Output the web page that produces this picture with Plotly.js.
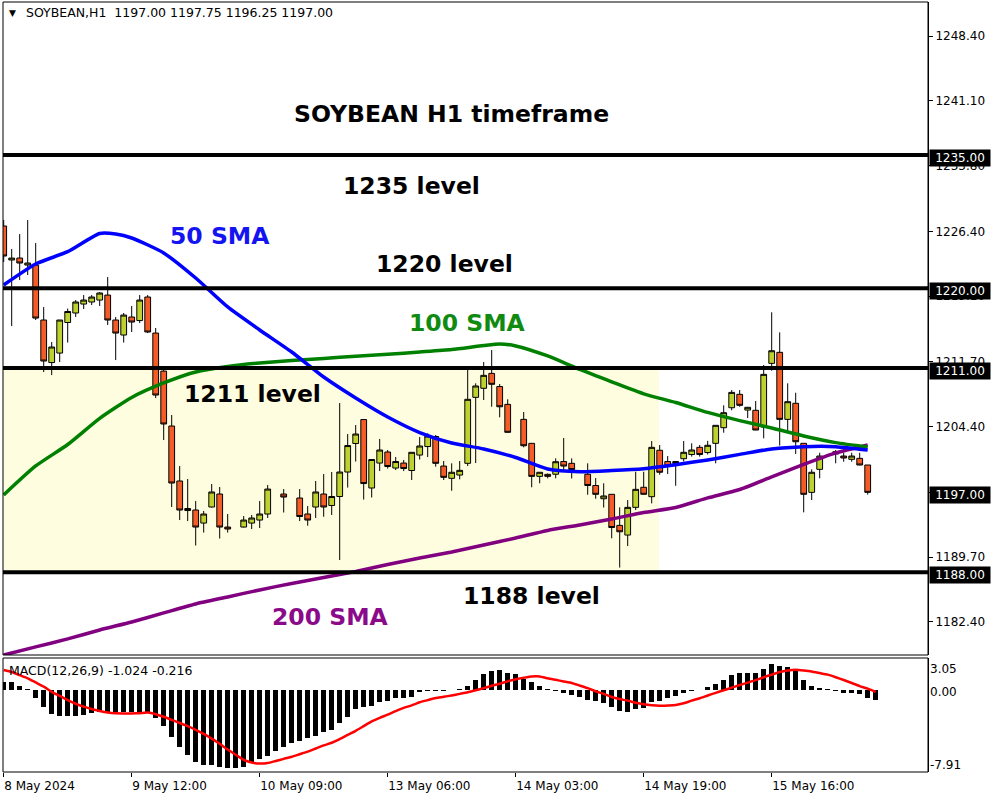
<!DOCTYPE html>
<html><head><meta charset="utf-8">
<script src="https://cdn.plot.ly/plotly-3.0.1.min.js"></script>
<style>html,body{margin:0;padding:0;background:#fff}#chart{width:1000px;height:800px}</style>
</head><body><div id="chart"></div>
<script>
// ---------------- DATA ----------------
const symbol = 'SOYBEAN,H1';
const lastOHLC = ['1197.00', '1197.75', '1196.25', '1197.00'];
const macdHeader = 'MACD(12,26,9) -1.024 -0.216';
const chartTitle = 'SOYBEAN H1 timeframe';

const xTickBars = [0, 16, 32, 48, 64, 80, 96];
const xTickLabels = ['8 May 2024', '9 May 12:00', '10 May 09:00', '13 May 06:00', '14 May 03:00', '14 May 19:00', '15 May 16:00'];

const priceTicks = [1248.40, 1241.10, 1233.80, 1226.40, 1219.10, 1211.70, 1204.40, 1197.00, 1189.70, 1182.40];
const levels = [1235, 1220, 1211, 1188];
const levelLabels = ['1235 level', '1220 level', '1211 level', '1188 level'];
const currentPrice = 1197.00;
const zoneTop = 1211, zoneBottom = 1188;

const open = [
1227.00,1223.17,1223.39,1222.60,1222.60,1216.41,1211.62,1212.69,1216.13,1217.20,
1218.21,1218.44,1218.66,1219.22,1216.41,1214.72,1216.75,1216.35,1219.00,1214.94,
1210.66,1204.47,1198.28,1194.95,1195.01,1193.54,1195.35,1196.81,1193.09,null,
1193.09,1193.54,1193.88,1194.56,null,1196.81,null,1196.36,1194.56,1195.35,
1196.81,1195.52,1196.53,1199.29,1202.50,1205.20,1197.49,1200.30,1201.54,1199.74,
1200.30,1199.46,1201.20,1202.16,1203.29,1199.96,1198.58,1198.95,1200.27,1207.70,
1208.72,1210.40,1208.92,1206.91,null,1205.22,1202.52,1198.80,1199.03,1199.04,
1200.47,1200.27,null,1199.04,1197.77,1196.28,1196.78,1193.28,1192.19,1195.31,
1197.57,1196.51,1201.74,1200.47,1200.25,1200.79,1201.26,1202.07,1201.48,1202.52,
1204.28,1206.53,1208.04,1206.27,1206.24,1204.36,1211.53,1212.77,1205.22,1207.03,
1202.52,1197.00,1199.59,null,1201.32,1201.09,1200.72,1200.83,1200.08];
const high = [
1227.67,1224.41,1226.09,1227.67,1225.08,1217.87,1213.93,1216.41,1217.70,1218.66,
1219.22,1219.22,1219.56,1221.25,1216.75,1217.20,1217.99,1219.22,1219.22,1215.51,
1210.89,1205.71,1199.96,1198.50,1196.02,1194.90,1197.94,1197.60,1194.56,null,
1194.33,1194.45,1196.02,1197.82,null,1197.37,null,1197.37,1195.46,1198.28,
1199.06,1199.29,1207.06,1203.57,1204.58,1205.26,1200.75,1203.01,1201.77,1200.98,
1200.64,1201.54,1203.23,1203.65,1203.46,1200.53,1200.27,1200.53,1211.00,1209.28,
1211.68,1213.03,1209.20,1207.48,null,1206.05,1202.56,1199.29,1199.12,1200.83,
1203.12,1200.83,null,1200.27,1198.61,1198.02,1196.81,1195.31,1196.13,1199.32,
1199.32,1202.78,1202.33,1201.09,1200.53,1202.78,1202.52,1202.33,1202.80,1204.58,
1206.80,1208.52,1208.52,1206.61,1207.29,1211.34,1217.28,1215.02,1209.28,1208.22,
1202.56,1199.59,1201.46,null,1201.77,1201.46,1201.46,1201.46,1200.08];
const low = [
1222.94,1215.73,1220.91,1221.48,1216.41,1210.55,1210.21,1211.68,1213.87,1216.75,
1217.65,1218.10,1217.99,1215.85,1211.90,1213.87,1215.06,1216.07,1214.94,1207.62,
1202.89,1195.35,1193.88,1193.77,1191.01,1192.47,1195.29,1191.80,1192.47,null,
1193.04,1192.87,1192.98,1194.11,null,1194.73,null,1193.77,1193.24,1194.11,
1194.25,1194.45,1189.38,1197.54,1200.47,1196.19,1196.42,1199.40,1199.68,1199.51,
1199.40,1198.39,1200.70,1200.98,1199.89,1198.39,1197.18,1198.47,1199.96,1200.30,
1207.40,1206.64,1205.45,1203.72,null,1202.07,1197.57,1198.02,1198.58,1198.58,
1199.29,1198.56,null,1196.73,1196.28,1195.29,1191.82,1188.53,1190.95,1195.01,
1196.76,1195.76,1198.99,1199.06,1197.74,1200.47,1201.03,1201.03,1201.26,1200.27,
1203.72,1206.24,1206.64,1205.37,1203.99,1203.08,1210.70,1202.27,1203.79,1201.32,
1194.75,1196.13,1198.58,null,1200.27,1200.45,1200.45,1200.05,1196.75];
const close = [
1223.62,1223.39,1222.83,1222.83,1216.63,1211.79,1213.37,1216.41,1217.37,1218.44,
1218.66,1219.00,1219.45,1216.41,1214.94,1216.97,1216.18,1218.66,1215.06,1207.96,
1204.70,1198.05,1195.01,1195.18,1193.09,1194.56,1197.04,1193.09,1192.87,null,
1193.88,1194.11,1194.56,1197.37,null,1196.47,null,1194.28,1193.88,1197.04,
1195.35,1196.53,1199.29,1202.27,1203.57,1197.99,1200.70,1201.77,1199.91,1200.47,
1199.68,1201.51,1202.22,1203.34,1200.27,1198.69,1199.26,1199.48,1207.48,1208.98,
1210.18,1209.17,1206.64,1203.76,null,1202.25,1198.80,1199.26,1198.80,1200.45,
1199.96,1199.57,null,1197.77,1196.78,1196.59,1193.04,1192.56,1195.31,1197.34,
1196.78,1202.07,1199.26,1199.96,1200.47,1201.51,1201.77,1201.26,1202.30,1204.55,
1205.97,1208.26,1206.80,1206.58,1204.02,1210.29,1212.95,1205.22,1207.21,1202.70,
1196.78,1199.26,1201.09,null,1201.58,1200.87,1201.09,1200.08,1197.00];

// moving averages read at selected bars
const sma50Bars = [0,4,8,12,14,16,20,24,28,32,36,40,44,48,52,56,60,64,68,72,76,80,84,88,92,96,100,104,108];
const sma50 = [1220.36,1222.72,1224.11,1226.16,1226.10,1225.65,1223.96,1221.14,1217.88,1215.29,1212.81,1209.99,1207.63,1205.49,1203.74,1202.56,1201.89,1200.93,1199.63,1199.33,1199.46,1199.67,1200.12,1200.65,1201.28,1201.89,1202.15,1202.15,1201.77];
const sma100Bars = [0,4,8,12,16,20,24,28,32,36,40,44,48,52,56,60,62,64,68,72,76,80,84,88,92,96,100,104,108];
const sma100 = [1196.71,1199.97,1202.39,1205.34,1207.69,1209.32,1210.56,1211.18,1211.57,1211.85,1212.08,1212.33,1212.55,1212.81,1213.09,1213.54,1213.71,1213.49,1212.36,1210.84,1209.45,1208.10,1207.12,1206.00,1205.08,1204.25,1203.35,1202.60,1202.11];
const sma200Bars = [0,4,8,12,16,20,24,28,32,36,40,44,48,52,56,60,64,68,72,76,80,84,88,92,96,100,104,108];
const sma200 = [1178.68,1179.59,1180.49,1181.50,1182.40,1183.42,1184.43,1185.22,1186.01,1186.74,1187.41,1188.09,1188.88,1189.61,1190.29,1191.07,1191.86,1192.71,1193.33,1194.00,1194.73,1195.30,1196.37,1197.32,1198.73,1200.14,1201.44,1202.34];
const smaLabels = ['50 SMA', '100 SMA', '200 SMA'];

const macdHist = [
0.75,0.75,0.35,0.05,-0.75,-1.62,-2.32,-2.52,-2.52,-2.52,
-2.42,-2.26,-2.16,-2.16,-2.16,-2.16,-2.16,-2.16,-2.16,-2.68,
-3.48,-4.50,-5.46,-6.27,-6.97,-7.23,-7.23,-7.39,-7.48,-7.48,
-7.39,-6.97,-6.68,-6.33,-5.88,-5.46,-5.11,-4.92,-4.66,-4.44,
-4.09,-3.83,-3.22,-2.58,-1.88,-1.62,-1.52,-1.14,-1.04,-0.82,
-0.82,-0.66,-0.24,-0.10,-0.10,-0.10,-0.05,0.03,0.38,0.96,
1.51,1.83,1.92,1.60,1.51,1.03,0.71,0.35,0.05,-0.08,
-0.35,-0.48,-0.74,-0.99,-1.06,-1.31,-1.70,-2.02,-2.12,-1.86,
-1.76,-1.22,-1.06,-0.80,-0.64,-0.35,-0.10,-0.03,0.22,0.54,
0.96,1.41,1.60,1.60,1.60,1.99,2.47,2.24,2.15,1.83,
0.93,0.32,0.15,0.03,-0.08,-0.29,-0.29,-0.42,-0.83,-1.024];
const macdSignal = [
1.9,1.7,1.4,1.1,0.7,0.3,-0.2,-0.6,-1.0,-1.35,
-1.63,-1.85,-2.05,-2.2,-2.27,-2.28,-2.28,-2.25,-2.2,-2.35,
-2.6,-2.9,-3.2,-3.5,-3.85,-4.25,-4.7,-5.2,-5.75,-6.25,
-6.75,-7.0,-7.1,-7.05,-6.85,-6.65,-6.45,-6.2,-5.95,-5.65,
-5.35,-5.1,-4.75,-4.35,-3.95,-3.5,-3.05,-2.7,-2.4,-2.05,
-1.75,-1.5,-1.2,-1.0,-0.8,-0.68,-0.55,-0.4,-0.25,-0.05,
0.15,0.38,0.58,0.8,1.0,1.15,1.28,1.28,1.1,0.95,
0.8,0.65,0.4,0.15,-0.15,-0.4,-0.7,-0.9,-1.05,-1.25,
-1.4,-1.5,-1.55,-1.52,-1.47,-1.3,-1.05,-0.82,-0.55,-0.3,
-0.05,0.2,0.45,0.68,0.92,1.2,1.45,1.7,1.85,1.92,
1.85,1.75,1.6,1.45,1.2,0.93,0.65,0.35,0.1,-0.216];
const macdMax = 3.05, macdMin = -7.91;
const macdAxisLabels = ['3.05', '0.00', '-7.91'];

// ---------------- LAYOUT GEOMETRY ----------------
const M = {l: 3, r: 72, t: 2, b: 28};
const plotW = 1000 - M.l - M.r, plotH = 800 - M.t - M.b;
const paperX = px => (px - M.l) / plotW;
const paperY = py => (800 - M.b - py) / plotH;
const pitch = 8, bar0 = 3.7;
const xRange = [(M.l - bar0) / pitch, (1000 - M.r - bar0) / pitch];
const mainBottomPx = 655, macdTopPx = 658;
const mainDomain = [paperY(mainBottomPx), 1];
const macdDomain = [0, paperY(macdTopPx)];
const mainRange = [1178.68, 1252.23];

const BULL = '#BFD131', BEAR = '#F25C27';
const FONT = 'DejaVu Sans, Verdana, sans-serif';

const bars = open.map((_, i) => i).filter(i => open[i] !== null);
const macdX = macdHist.map((_, i) => i);

const traces = [
  {type: 'scatter', mode: 'lines', x: sma200Bars, y: sma200, line: {color: '#800080', width: 3.5, shape: 'spline', smoothing: 0.6}, hoverinfo: 'skip'},
  {type: 'scatter', mode: 'lines', x: sma100Bars, y: sma100, line: {color: '#008000', width: 3.5, shape: 'spline', smoothing: 0.6}, hoverinfo: 'skip'},
  {type: 'scatter', mode: 'lines', x: sma50Bars, y: sma50, line: {color: '#0000FF', width: 3.5, shape: 'spline', smoothing: 0.6}, hoverinfo: 'skip'},
  {type: 'candlestick', x: bars,
   open: bars.map(i => open[i]), high: bars.map(i => high[i]), low: bars.map(i => low[i]), close: bars.map(i => close[i]),
   increasing: {line: {color: '#000', width: 1}, fillcolor: BULL},
   decreasing: {line: {color: '#000', width: 1}, fillcolor: BEAR},
   whiskerwidth: 0, hoverinfo: 'skip'},
  {type: 'bar', x: macdX, y: macdHist, width: 0.62, marker: {color: '#000', line: {width: 0}}, xaxis: 'x', yaxis: 'y2', hoverinfo: 'skip'},
  {type: 'scatter', mode: 'lines', x: macdX, y: macdSignal, line: {color: '#FF0000', width: 2.5, shape: 'spline', smoothing: 0.5}, xaxis: 'x', yaxis: 'y2', hoverinfo: 'skip'}
];

const shapes = [
  {type: 'rect', xref: 'x', yref: 'y', x0: xRange[0], x1: (659 - bar0) / pitch, y0: zoneBottom, y1: zoneTop, fillcolor: '#FFFDE0', line: {width: 0}, layer: 'below'},
  ...levels.map(v => ({type: 'line', xref: 'paper', yref: 'y', x0: 0, x1: 1, y0: v, y1: v, line: {color: '#000', width: 4}, layer: 'above'})),
  {type: 'rect', xref: 'paper', yref: 'paper', x0: 0, x1: 1, y0: mainDomain[0], y1: 1, line: {color: '#000', width: 1}, fillcolor: 'rgba(0,0,0,0)', layer: 'above'},
  {type: 'rect', xref: 'paper', yref: 'paper', x0: 0, x1: 1, y0: 0, y1: macdDomain[1], line: {color: '#000', width: 1}, fillcolor: 'rgba(0,0,0,0)', layer: 'above'}
];

const bold = (text, px, py, color) => ({text, xref: 'paper', yref: 'paper', x: paperX(px), y: paperY(py), xanchor: 'center', yanchor: 'middle', showarrow: false,
  font: {family: FONT, size: 23.5, weight: 'bold', color}});

const annotations = [
  bold(chartTitle, 451, 114, '#000'),
  bold(levelLabels[0], 411, 186, '#000'),
  bold(smaLabels[0], 220, 236, '#1414F0'),
  bold(levelLabels[1], 444, 264, '#000'),
  bold(smaLabels[1], 467, 323, '#118A11'),
  bold(levelLabels[2], 252, 394, '#000'),
  bold(levelLabels[3], 531, 596, '#000'),
  bold(smaLabels[2], 330, 617, '#8A0A8A'),
  {text: '\u25BC', xref: 'paper', yref: 'paper', x: paperX(12), y: paperY(13), xanchor: 'center', yanchor: 'middle', showarrow: false, font: {family: FONT, size: 9, color: '#000'}},
  {text: symbol + '\u00A0\u00A0' + lastOHLC.join(' '), xref: 'paper', yref: 'paper', x: paperX(24), y: paperY(13), xanchor: 'left', yanchor: 'middle', showarrow: false, font: {family: FONT, size: 12.5, color: '#000'}},
  {text: macdHeader, xref: 'paper', yref: 'paper', x: paperX(7), y: paperY(670), xanchor: 'left', yanchor: 'middle', showarrow: false, font: {family: FONT, size: 12.5, color: '#000'}},
  ...[...levels, currentPrice].map(v => ({text: v.toFixed(2), xref: 'paper', yref: 'y', x: 1, y: v, xanchor: 'left', yanchor: 'middle', xshift: 1, yshift: -3,
    showarrow: false, bgcolor: '#000', width: 58, height: 14, borderpad: 1, font: {family: FONT, size: 12, color: '#fff'}})),
  ...macdAxisLabels.map((t, k) => ({text: t, xref: 'paper', yref: 'paper', x: 1, y: paperY([669, 692, 765][k]), xanchor: 'left', yanchor: 'middle', xshift: 0,
    showarrow: false, font: {family: FONT, size: 12, color: '#000'}}))
];

const layout = {
  width: 1000, height: 800, margin: M, paper_bgcolor: '#fff', plot_bgcolor: '#fff', showlegend: false,
  boxgap: 0.28, boxgroupgap: 0, bargap: 0,
  xaxis: {range: xRange, anchor: 'y2', showgrid: false, zeroline: false, showline: false, rangeslider: {visible: false},
    tickmode: 'array', tickvals: xTickBars, ticktext: xTickLabels, ticks: 'outside', ticklen: 4, tickcolor: '#000',
    ticklabelposition: 'outside right', ticklabelstandoff: 3, tickfont: {family: FONT, size: 12, color: '#000'}},
  yaxis: {domain: mainDomain, range: mainRange, side: 'right', showgrid: false, zeroline: false, showline: true, linecolor: '#000', linewidth: 1,
    tickmode: 'array', tickvals: priceTicks, ticktext: priceTicks.map(v => v.toFixed(2)), ticks: 'outside', ticklen: 4, tickcolor: '#000',
    tickfont: {family: FONT, size: 12, color: '#000'}},
  yaxis2: {domain: macdDomain, range: [macdMin, macdMax], side: 'right', showgrid: false, zeroline: false, showline: true, linecolor: '#000', linewidth: 1,
    showticklabels: false, ticks: ''},
  shapes, annotations
};

Plotly.newPlot('chart', traces, layout, {displayModeBar: false, staticPlot: true});
</script></body></html>
